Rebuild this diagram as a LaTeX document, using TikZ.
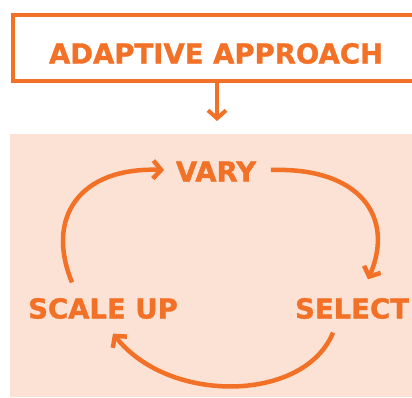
\documentclass[tikz,border=0pt]{standalone}
\usepackage{fontspec}
\setmainfont{DejaVu Sans}
\newfontfamily\lblfont{DejaVu Sans Bold}[FakeBold=1.2]
\usetikzlibrary{arrows.meta}
\definecolor{orng}{RGB}{242,113,39}
\definecolor{peach}{RGB}{251,226,213}
\tikzset{
  lbl/.style={text=orng, font=\lblfont\fontsize{27.5}{30}\selectfont, inner sep=0pt},
  cyc/.style={draw=orng, line width=4.5pt, -{Straight Barb[length=8pt,width=18pt]}},
}
\begin{document}
\begin{tikzpicture}[x=1pt,y=1pt]
\useasboundingbox (0,0) rectangle (412,397);
\clip (0,0) rectangle (412,397);
\fill[peach] (10,0) rectangle (416,263);
\node[draw=orng, line width=4pt, minimum width=407pt, minimum height=66pt, inner sep=0pt] (box) at (216,349) {};
\node[lbl] (title) at (216,343.5) {ADAPTIVE APPROACH};
\coordinate (dn) at (217,276);
\draw[cyc, line width=4pt] (box.south -| dn) -- (dn);
\node[lbl] (vary) at (216,225.5) {VARY};
\node[lbl] (scale) at (103,88.5) {SCALE UP};
\node[lbl] (select) at (352,88.5) {SELECT};
\draw[cyc] ([shift={(-31pt,15.5pt)}]scale.north) .. controls (45,180) and (80,230) .. ([shift={(-11.5pt,1.5pt)}]vary.west);
\draw[cyc] ([shift={(14.5pt,1.5pt)}]vary.east) .. controls (360,230) and (395,180) .. ([shift={(16pt,18.5pt)}]select.north);
\draw[cyc] ([shift={(-19pt,-13.5pt)}]select.south) .. controls (305,-5) and (170,-8) .. ([shift={(10pt,-14.5pt)}]scale.south);
\end{tikzpicture}
\end{document}
